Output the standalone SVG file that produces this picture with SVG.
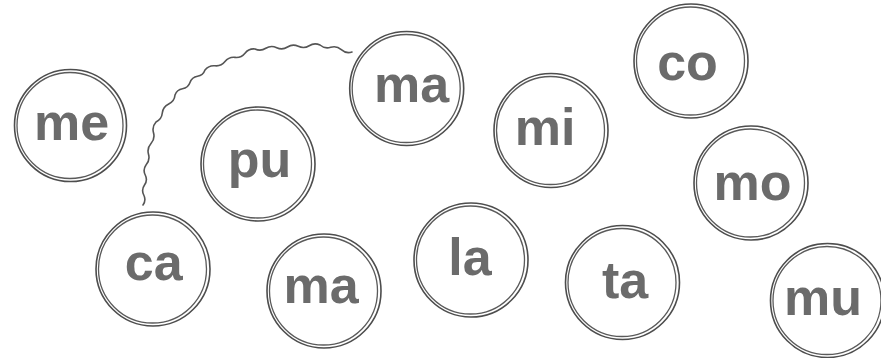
<svg xmlns="http://www.w3.org/2000/svg" width="881" height="358" viewBox="0 0 881 358">
<style>
.o{fill:none;stroke:#4d4d4d;stroke-width:1.6}
.i{fill:none;stroke:#5a5a5a;stroke-width:1.3}
.t{font-family:"Liberation Sans",Arial,sans-serif;font-weight:bold;font-size:52px;fill:#6b6b6b;text-anchor:middle}
.w{fill:none;stroke:#555;stroke-width:1.6;stroke-linecap:round}
</style>
<rect width="881" height="358" fill="#ffffff"/>
<g id="connectors">
<path class="w" d="M143,205 Q146.4,200.2 143.75,195 T144.5,185 T145.25,175 T146,165 Q150.2,160.3 148.5,154.25 T151,143.5 T153.5,132.75 T156,122 Q161.7,119.2 162.3,113 T168.7,104 T175,95 Q176.9,89.6 182.5,88.75 T190,82.5 T197.5,76.25 T205,70 Q208.9,65.1 215,65.8 T225,61.6 T235,57.4 T245,53.2 T255,49 Q260.6,51.6 265.8,48.3 T276.7,47.7 T287.5,47 T298.3,46.3 T309.2,45.7 T320,45 Q324.7,49.1 330.7,47.3 T341.3,49.7 T352,52"/>
</g>
<g id="n-me"><circle class="o" cx="70.5" cy="125.5" r="56"/><circle class="i" cx="70" cy="125.5" r="53"/><text class="t" x="71.5" y="140">me</text></g>
<g id="n-pu"><circle class="o" cx="258" cy="164" r="57"/><circle class="i" cx="257.5" cy="164" r="54"/><text class="t" x="259.5" y="177">pu</text></g>
<g id="n-ca"><circle class="o" cx="153" cy="269" r="57"/><circle class="i" cx="152.5" cy="269" r="54"/><text class="t" x="153.7" y="280">ca</text></g>
<g id="n-ma1"><circle class="o" cx="406.7" cy="88.5" r="57"/><circle class="i" cx="406.2" cy="88.5" r="54"/><text class="t" x="411.7" y="102">ma</text></g>
<g id="n-mi"><circle class="o" cx="551" cy="130.5" r="57"/><circle class="i" cx="550.5" cy="130.5" r="54"/><text class="t" x="545" y="145">mi</text></g>
<g id="n-co"><circle class="o" cx="691" cy="61" r="57"/><circle class="i" cx="690.5" cy="61" r="54"/><text class="t" x="687.5" y="80">co</text></g>
<g id="n-mo"><circle class="o" cx="751" cy="183" r="57"/><circle class="i" cx="750.5" cy="183" r="54"/><text class="t" x="752.5" y="200">mo</text></g>
<g id="n-ma2"><circle class="o" cx="324" cy="291" r="57"/><circle class="i" cx="323.5" cy="291" r="54"/><text class="t" x="321" y="303">ma</text></g>
<g id="n-la"><circle class="o" cx="471" cy="260" r="57"/><circle class="i" cx="470.5" cy="260" r="54"/><text class="t" x="470" y="275">la</text></g>
<g id="n-ta"><circle class="o" cx="622.5" cy="282.5" r="57"/><circle class="i" cx="622" cy="282.5" r="54"/><text class="t" x="625" y="298">ta</text></g>
<g id="n-mu"><circle class="o" cx="827.5" cy="300.5" r="57"/><circle class="i" cx="827" cy="300.5" r="54"/><text class="t" x="823" y="315">mu</text></g>
</svg>
